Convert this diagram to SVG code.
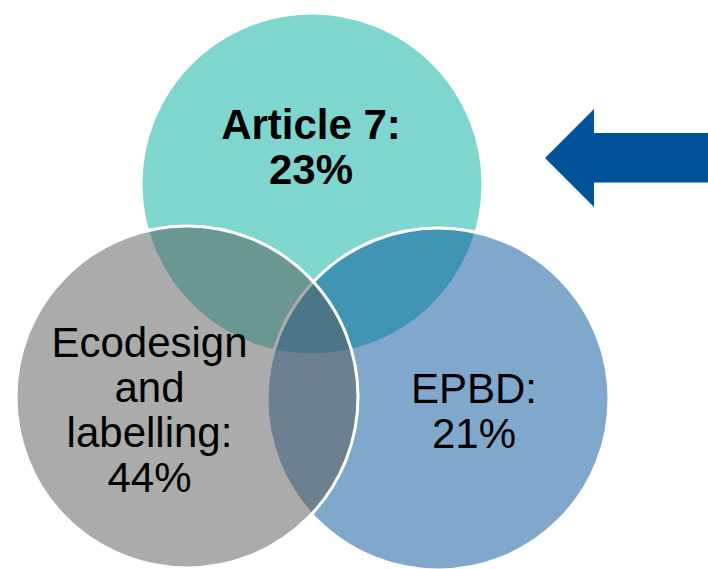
<svg xmlns="http://www.w3.org/2000/svg" width="708" height="569" viewBox="0 0 708 569">
  <style>
    .c { fill-opacity: 0.5; stroke: #ffffff; stroke-width: 3; }
    .t { font-family: "Liberation Sans", Arial, sans-serif; font-size: 42px; fill: #000000; text-anchor: middle; }
    .b { font-weight: bold; }
  </style>
  <rect x="0" y="0" width="708" height="569" fill="#ffffff"/>
  <g id="article7">
    <circle class="c" cx="312" cy="184" r="171" fill="#00ad9f"/>
    <text class="t b" x="311" y="139">Article 7:</text>
    <text class="t b" x="311" y="184">23%</text>
  </g>
  <g id="epbd">
    <circle class="c" cx="438" cy="399" r="171" fill="#01519a"/>
    <text class="t" x="474" y="403">EPBD:</text>
    <text class="t" x="474" y="448">21%</text>
  </g>
  <g id="ecodesign">
    <circle class="c" cx="187" cy="397" r="171" fill="#575757"/>
    <text class="t" x="149.5" y="357">Ecodesign</text>
    <text class="t" x="149.5" y="402">and</text>
    <text class="t" x="149.5" y="447">labelling:</text>
    <text class="t" x="149.5" y="492">44%</text>
  </g>
  <g id="connectors">
    <polygon points="545,158 594,109 594,133 708,133 708,182.5 594,182.5 594,207" fill="#00529b"/>
  </g>
</svg>
